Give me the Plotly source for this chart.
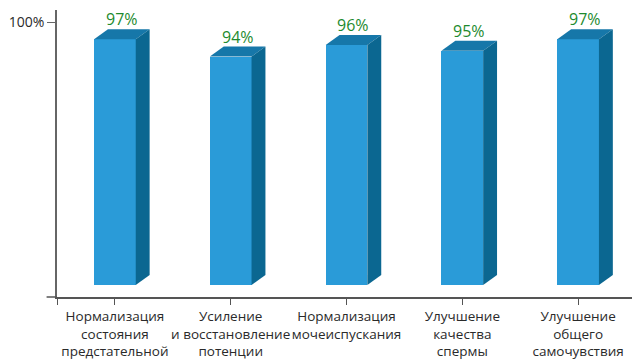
import plotly.graph_objects as go

categories = [
    "Нормализация<br>состояния<br>предстательной",
    "Усиление<br>и восстановление<br>потенции",
    "Нормализация<br>мочеиспускания",
    "Улучшение<br>качества<br>спермы",
    "Улучшение<br>общего<br>самочувствия",
]
values = [97, 94, 96, 95, 97]
value_labels = ["97%", "94%", "96%", "95%", "97%"]
y_tick_vals = [100]
y_tick_text = ["100%"]

BASE = 54.3
W = 0.36
DX = 0.12
DY = 1.74
FRONT = "#2A9BD8"
SIDE = "#0B6791"
TOP = "#1677A9"

xs = list(range(len(categories)))

fig = go.Figure()
fig.add_trace(go.Bar(
    x=xs, y=[v - BASE for v in values], base=BASE, width=W,
    marker=dict(color=FRONT, line=dict(width=0)), hoverinfo="skip",
))

shapes = []
for x, v in zip(xs, values):
    l, r = x - W / 2, x + W / 2
    top = f"M {l} {v} L {r} {v} L {r + DX} {v + DY} L {l + DX} {v + DY} Z"
    side = f"M {r} {BASE} L {r + DX} {BASE + DY} L {r + DX} {v + DY} L {r} {v} Z"
    shapes.append(dict(type="path", path=top, xref="x", yref="y",
                       fillcolor=TOP, line=dict(width=0), layer="above"))
    shapes.append(dict(type="path", path=side, xref="x", yref="y",
                       fillcolor=SIDE, line=dict(width=0), layer="above"))
# small left extension of the x-axis line
shapes.append(dict(type="line", xref="paper", yref="paper", x0=-0.018, x1=0, y0=0, y1=0,
                   line=dict(color="#555", width=1.5)))

annotations = []
for x, v, t in zip(xs, values, value_labels):
    annotations.append(dict(x=x + DX / 2, y=v + DY, text=t, showarrow=False,
                            yanchor="bottom", yshift=-3,
                            font=dict(family="Open Sans", size=16, color="#1E8A2E")))

fig.update_layout(
    width=632, height=352,
    margin=dict(l=49, r=4, t=2, b=63),
    paper_bgcolor="white", plot_bgcolor="white",
    showlegend=False,
    shapes=shapes, annotations=annotations,
    bargap=0,
    xaxis=dict(
        range=[-0.5, 4.5], tickmode="array", tickvals=xs, ticktext=categories,
        showline=True, linecolor="#555", linewidth=1.5,
        ticks="outside", ticklen=6, tickcolor="#555", tickwidth=1.2,
        minor=dict(tickmode="array", tickvals=[-0.5, 4.5], ticks="outside", ticklen=6,
                   tickcolor="#555", tickwidth=1.2),
        showgrid=False, zeroline=False, automargin=False,
        tickfont=dict(family="Open Sans", size=13.5, color="#2a2a2a"),
        tickangle=0, fixedrange=True,
    ),
    yaxis=dict(
        range=[52.2, 102.1], tickmode="array", tickvals=y_tick_vals, ticktext=y_tick_text,
        showline=True, linecolor="#666", linewidth=1.5,
        ticks="outside", ticklen=8, tickcolor="#666", tickwidth=1.2,
        showgrid=False, zeroline=False, automargin=False,
        tickfont=dict(family="Open Sans", size=14, color="#2a2a2a"),
        fixedrange=True,
    ),
)

fig.write_html("out.html")
